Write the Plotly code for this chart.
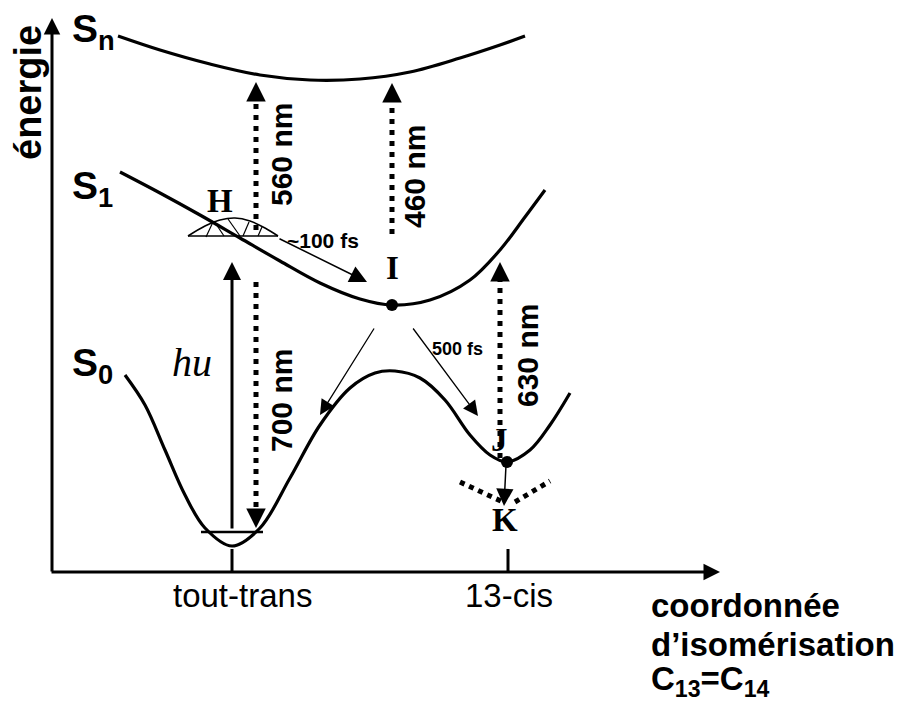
import plotly.graph_objects as go

# potential energy curves (schematic, pixel-like coordinates)
sn_x = [118, 160, 210, 260, 310, 360, 410, 460, 500, 525]
sn_y = [36, 50, 64, 75, 80, 79, 72, 58, 45, 36]
s1_x = [120, 160, 200, 240, 280, 320, 360, 392, 430, 470, 500, 525, 545]
s1_y = [172, 193, 215, 238, 261, 283, 299, 305, 300, 280, 250, 217, 190]
s0_x = [125, 145, 165, 185, 205, 232, 260, 290, 320, 350, 375, 395, 420, 445, 470, 490, 507, 530, 550, 570]
s0_y = [375, 405, 450, 495, 528, 546, 528, 478, 425, 388, 373, 371, 378, 400, 435, 455, 462, 450, 425, 393]

# labels
state_labels = ["S<sub>n</sub>", "S<sub>1</sub>", "S<sub>0</sub>"]
state_pos = [(71, 31), (71, 188), (71, 365)]
point_labels = ["H", "I", "J", "K"]
point_pos = [(220, 201), (392, 268), (499, 440), (505, 520)]
dot_x = [392, 507]
dot_y = [305, 462]

# dotted transitions
trans_x = [256, 256, 392, 500]
trans_from = [282, 230, 234, 458]
trans_to = [528, 82, 83, 262]
trans_text = ["700 nm", "560 nm", "460 nm", "630 nm"]
trans_label_x = [281, 281, 414, 527]
trans_label_y = [401, 155, 177, 356]

# solid arrows: tail -> head, width
arrows = [((232, 530), (232, 262), 3.0), ((278, 238), (367, 282), 1.5),
          ((375, 327), (320, 415), 1.3), ((412, 327), (478, 416), 1.3),
          ((506, 465), (504, 506), 1.5)]

tick_x = [232, 508]
tick_labels = ["tout-trans", "13-cis"]
tick_label_x = [242, 509]

coord_lines = ["coordonnée", "d’isomérisation", "C<sub>13</sub>=C<sub>14</sub>"]
coord_y = [605, 644, 681]

black = "black"
sans = dict(family="Liberation Sans, Arial", color=black)
serif = dict(family="Liberation Serif, Times New Roman", color=black)

fig = go.Figure()
for xs, ys in [(sn_x, sn_y), (s1_x, s1_y), (s0_x, s0_y)]:
    fig.add_trace(go.Scatter(x=xs, y=ys, mode="lines", hoverinfo="skip",
                             line=dict(color=black, width=3.2, shape="spline", smoothing=1.0)))

# vibrational level in the well
fig.add_trace(go.Scatter(x=[201, 263], y=[532, 532], mode="lines", line=dict(color=black, width=2.4), hoverinfo="skip"))

# wavepacket H
fig.add_trace(go.Scatter(x=[188, 278], y=[236, 236], mode="lines", line=dict(color=black, width=1.6), hoverinfo="skip"))
fig.add_trace(go.Scatter(x=[188, 205, 220, 235, 250, 265, 278], y=[236, 226, 220, 218, 221, 228, 236], mode="lines",
                         line=dict(color=black, width=1.6, shape="spline"), hoverinfo="skip"))
for seg in [((206, 237), (213, 222)), ((228, 219), (240, 236)), ((249, 222), (243, 236)), ((262, 227), (258, 236)),
            ((214, 221), (224, 236))]:
    fig.add_trace(go.Scatter(x=[seg[0][0], seg[1][0]], y=[seg[0][1], seg[1][1]], mode="lines",
                             line=dict(color=black, width=1.2), hoverinfo="skip"))

# dotted V at K
fig.add_trace(go.Scatter(x=[460, 503], y=[482, 502], mode="lines", line=dict(color=black, width=5, dash="5px,5px"),
                         hoverinfo="skip"))
fig.add_trace(go.Scatter(x=[515, 550], y=[502, 481], mode="lines", line=dict(color=black, width=5, dash="5px,5px"),
                         hoverinfo="skip"))

# dots I and J
fig.add_trace(go.Scatter(x=dot_x, y=dot_y, mode="markers", marker=dict(color=black, size=12), hoverinfo="skip"))

# dotted transitions
for x, y0, y1, t, lx, ly in zip(trans_x, trans_from, trans_to, trans_text, trans_label_x, trans_label_y):
    d = 1 if y1 > y0 else -1
    fig.add_trace(go.Scatter(x=[x, x], y=[y0, y1 - d * 14], mode="lines", hoverinfo="skip",
                             line=dict(color=black, width=5, dash="5px,6px")))
    fig.add_annotation(x=x, y=y1, ax=x, ay=y1 - d * 16, axref="x", ayref="y", xref="x", yref="y", text="",
                       showarrow=True, arrowhead=2, arrowsize=1.3, arrowwidth=3, arrowcolor=black)
    fig.add_annotation(x=lx, y=ly, text="<b>" + t + "</b>", showarrow=False, textangle=-90,
                       font=dict(size=30, **sans))

for tail, head, w in arrows:
    fig.add_annotation(x=head[0], y=head[1], ax=tail[0], ay=tail[1], axref="x", ayref="y", text="",
                       showarrow=True, arrowhead=2, arrowsize=1.2 if w > 2 else 2.3, arrowwidth=w, arrowcolor=black)

# axes
fig.add_annotation(x=52, y=18, ax=52, ay=573, axref="x", ayref="y", text="", showarrow=True, arrowhead=2,
                   arrowsize=1.1, arrowwidth=3, arrowcolor=black)
fig.add_annotation(x=720, y=572, ax=50, ay=572, axref="x", ayref="y", text="", showarrow=True, arrowhead=2,
                   arrowsize=1.1, arrowwidth=3, arrowcolor=black)
for tx, tl, lx in zip(tick_x, tick_labels, tick_label_x):
    fig.add_trace(go.Scatter(x=[tx, tx], y=[549, 572], mode="lines", line=dict(color=black, width=3), hoverinfo="skip"))
    fig.add_annotation(x=lx, y=595, text=tl, showarrow=False, font=dict(size=33, **sans))

for lab, (x, y) in zip(state_labels, state_pos):
    fig.add_annotation(x=x, y=y, text="<b>" + lab + "</b>", showarrow=False, xanchor="left", borderpad=0,
                       font=dict(size=39, **sans))
for lab, (x, y) in zip(point_labels, point_pos):
    fig.add_annotation(x=x, y=y, text="<b>" + lab + "</b>", showarrow=False, font=dict(size=33, **serif))

fig.add_annotation(x=28, y=93, text="<b>énergie</b>", textangle=-90, showarrow=False, font=dict(size=38, **sans))
fig.add_annotation(x=192, y=362, text="<i>hu</i>", showarrow=False, font=dict(size=40, **serif))
fig.add_annotation(x=323, y=240, text="<b>~100 fs</b>", showarrow=False, font=dict(size=21, **sans))
fig.add_annotation(x=457, y=349, text="<b>500 fs</b>", showarrow=False, font=dict(size=18, **sans))
for t, y in zip(coord_lines, coord_y):
    fig.add_annotation(x=650, y=y, text="<b>" + t + "</b>", showarrow=False, xanchor="left", borderpad=0,
                       font=dict(size=33, **sans))

# page body has an 8px margin, so the figure is shifted; ranges compensate
fig.update_layout(width=908, height=694, margin=dict(l=0, r=0, t=0, b=0), showlegend=False,
                  plot_bgcolor="white", paper_bgcolor="white",
                  xaxis=dict(range=[8, 916], visible=False, fixedrange=True),
                  yaxis=dict(range=[702, 8], visible=False, fixedrange=True))
fig.write_html("out.html")
